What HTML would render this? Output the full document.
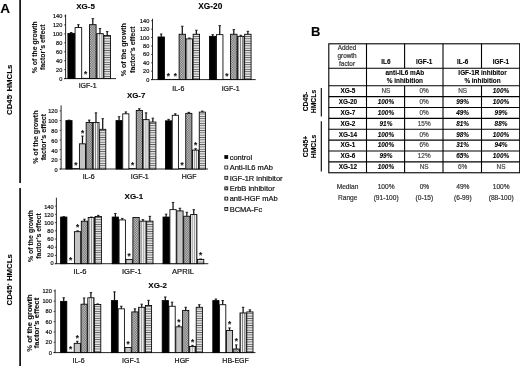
<!DOCTYPE html>
<html><head><meta charset="utf-8"><title>Figure</title>
<style>
html,body{margin:0;padding:0;background:#fff;}
body{width:520px;height:366px;overflow:hidden;font-family:"Liberation Sans", sans-serif;}
svg{display:block;font-family:"Liberation Sans", sans-serif;filter:grayscale(1);}
svg text{stroke-width:0.2px;stroke-linejoin:round;}
svg text[font-weight=bold]{stroke-width:0.1px;}
</style></head><body>
<svg width="520" height="366" viewBox="0 0 520 366">
<defs>
<pattern id="p2" width="1" height="1" patternUnits="userSpaceOnUse"><rect width="1" height="1" fill="#d6d6d6"/><rect width="0.5" height="0.5" fill="#8e8e8e"/></pattern>
<pattern id="p3" width="1.7" height="1.7" patternUnits="userSpaceOnUse"><rect width="1.7" height="1.7" fill="#d2d2d2"/><rect width="0.85" height="0.85" fill="#606060"/><rect x="0.85" y="0.85" width="0.85" height="0.85" fill="#606060"/></pattern>
<pattern id="p4" width="2.1" height="4" patternUnits="userSpaceOnUse"><rect width="2.1" height="4" fill="#ececec"/><rect x="0.8" width="0.6" height="4" fill="#6a6a6a"/></pattern>
<pattern id="p5" width="4" height="2.35" patternUnits="userSpaceOnUse"><rect width="4" height="2.35" fill="#e4e4e4"/><rect y="0.8" width="4" height="0.8" fill="#5c5c5c"/></pattern>
</defs>
<rect width="520" height="366" fill="#fff"/>

<text x="0.2" y="13.4" font-size="13.6" font-weight="bold" fill="#000" stroke="#000">A</text>
<text x="310.9" y="35.8" font-size="13" font-weight="bold" fill="#000" stroke="#000">B</text>
<line x1="20.1" y1="0" x2="20.1" y2="183" stroke="#000" stroke-width="1.6"/>
<line x1="20.1" y1="188" x2="20.1" y2="366" stroke="#000" stroke-width="1.6"/>
<text transform="translate(11.9,89.8) rotate(-90)" font-size="7.8" font-weight="bold" text-anchor="middle" fill="#000" stroke="#000">CD45<tspan dy="-2.8" font-size="3.8">-</tspan><tspan dy="2.8"> HMCLs</tspan></text>
<text transform="translate(11.9,279.8) rotate(-90)" font-size="7.8" font-weight="bold" text-anchor="middle" fill="#000" stroke="#000">CD45<tspan dy="-2.8" font-size="3.8">+</tspan><tspan dy="2.8"> HMCLs</tspan></text>
<line x1="65.6" y1="14.5" x2="65.6" y2="78.6" stroke="#111" stroke-width="0.9"/>
<line x1="64.1" y1="78.6" x2="116" y2="78.6" stroke="#111" stroke-width="0.9"/>
<line x1="64.1" y1="78.60" x2="65.6" y2="78.60" stroke="#111" stroke-width="0.7"/>
<text x="62.3" y="80.62" font-size="5.6" text-anchor="end" fill="#111" stroke="#111">0</text>
<line x1="64.1" y1="69.65" x2="65.6" y2="69.65" stroke="#111" stroke-width="0.7"/>
<text x="62.3" y="71.67" font-size="5.6" text-anchor="end" fill="#111" stroke="#111">20</text>
<line x1="64.1" y1="60.70" x2="65.6" y2="60.70" stroke="#111" stroke-width="0.7"/>
<text x="62.3" y="62.72" font-size="5.6" text-anchor="end" fill="#111" stroke="#111">40</text>
<line x1="64.1" y1="51.75" x2="65.6" y2="51.75" stroke="#111" stroke-width="0.7"/>
<text x="62.3" y="53.77" font-size="5.6" text-anchor="end" fill="#111" stroke="#111">60</text>
<line x1="64.1" y1="42.80" x2="65.6" y2="42.80" stroke="#111" stroke-width="0.7"/>
<text x="62.3" y="44.82" font-size="5.6" text-anchor="end" fill="#111" stroke="#111">80</text>
<line x1="64.1" y1="33.85" x2="65.6" y2="33.85" stroke="#111" stroke-width="0.7"/>
<text x="62.3" y="35.87" font-size="5.6" text-anchor="end" fill="#111" stroke="#111">100</text>
<line x1="64.1" y1="24.90" x2="65.6" y2="24.90" stroke="#111" stroke-width="0.7"/>
<text x="62.3" y="26.92" font-size="5.6" text-anchor="end" fill="#111" stroke="#111">120</text>
<line x1="64.1" y1="15.95" x2="65.6" y2="15.95" stroke="#111" stroke-width="0.7"/>
<text x="62.3" y="17.97" font-size="5.6" text-anchor="end" fill="#111" stroke="#111">140</text>
<text x="85.6" y="8.5" font-size="8" font-weight="bold" text-anchor="middle" fill="#000" stroke="#000">XG-5</text>
<text transform="translate(37.2,47.3) rotate(-90)" font-size="6.95" font-weight="bold" text-anchor="middle" fill="#111" stroke="#111">% of the growth</text>
<text transform="translate(45.3,47.3) rotate(-90)" font-size="6.95" font-weight="bold" text-anchor="middle" fill="#111" stroke="#111">factor’s effect</text>
<rect x="67.90" y="33.40" width="6.60" height="45.20" fill="#000" stroke="#000" stroke-width="0.85"/>
<line x1="71.20" y1="33.40" x2="71.20" y2="32.51" stroke="#111" stroke-width="1.25"/>
<line x1="69.95" y1="32.51" x2="72.45" y2="32.51" stroke="#111" stroke-width="0.9"/>
<rect x="75.10" y="27.58" width="6.60" height="51.02" fill="#fff" stroke="#000" stroke-width="0.85"/>
<line x1="78.40" y1="27.58" x2="78.40" y2="24.68" stroke="#111" stroke-width="1.25"/>
<line x1="77.15" y1="24.68" x2="79.65" y2="24.68" stroke="#111" stroke-width="0.9"/>
<rect x="82.30" y="78.06" width="6.60" height="0.54" fill="#000" stroke="#000" stroke-width="0.3"/>
<text x="85.60" y="77.00" font-size="8.2" font-weight="bold" text-anchor="middle" fill="#111" stroke="#111">*</text>
<rect x="89.50" y="24.68" width="6.60" height="53.92" fill="url(#p3)" stroke="#000" stroke-width="0.85"/>
<line x1="92.80" y1="24.68" x2="92.80" y2="18.63" stroke="#111" stroke-width="1.25"/>
<line x1="91.55" y1="18.63" x2="94.05" y2="18.63" stroke="#111" stroke-width="0.9"/>
<rect x="96.70" y="33.67" width="6.60" height="44.93" fill="url(#p4)" stroke="#000" stroke-width="0.85"/>
<line x1="100.00" y1="33.67" x2="100.00" y2="28.52" stroke="#111" stroke-width="1.25"/>
<line x1="98.75" y1="28.52" x2="101.25" y2="28.52" stroke="#111" stroke-width="0.9"/>
<rect x="103.90" y="35.46" width="6.60" height="43.14" fill="url(#p5)" stroke="#000" stroke-width="0.85"/>
<line x1="107.20" y1="35.46" x2="107.20" y2="31.57" stroke="#111" stroke-width="1.25"/>
<line x1="105.95" y1="31.57" x2="108.45" y2="31.57" stroke="#111" stroke-width="0.9"/>
<text x="87.6" y="88.4" font-size="7" text-anchor="middle" fill="#111" stroke="#111">IGF-1</text>
<line x1="152.5" y1="18.8" x2="152.5" y2="79.6" stroke="#111" stroke-width="0.9"/>
<line x1="151.0" y1="79.6" x2="255.7" y2="79.6" stroke="#111" stroke-width="0.9"/>
<line x1="151.0" y1="79.60" x2="152.5" y2="79.60" stroke="#111" stroke-width="0.7"/>
<text x="149.3" y="81.62" font-size="5.6" text-anchor="end" fill="#111" stroke="#111">0</text>
<line x1="151.0" y1="71.20" x2="152.5" y2="71.20" stroke="#111" stroke-width="0.7"/>
<text x="149.3" y="73.22" font-size="5.6" text-anchor="end" fill="#111" stroke="#111">20</text>
<line x1="151.0" y1="62.80" x2="152.5" y2="62.80" stroke="#111" stroke-width="0.7"/>
<text x="149.3" y="64.82" font-size="5.6" text-anchor="end" fill="#111" stroke="#111">40</text>
<line x1="151.0" y1="54.40" x2="152.5" y2="54.40" stroke="#111" stroke-width="0.7"/>
<text x="149.3" y="56.42" font-size="5.6" text-anchor="end" fill="#111" stroke="#111">60</text>
<line x1="151.0" y1="46.00" x2="152.5" y2="46.00" stroke="#111" stroke-width="0.7"/>
<text x="149.3" y="48.02" font-size="5.6" text-anchor="end" fill="#111" stroke="#111">80</text>
<line x1="151.0" y1="37.60" x2="152.5" y2="37.60" stroke="#111" stroke-width="0.7"/>
<text x="149.3" y="39.62" font-size="5.6" text-anchor="end" fill="#111" stroke="#111">100</text>
<line x1="151.0" y1="29.20" x2="152.5" y2="29.20" stroke="#111" stroke-width="0.7"/>
<text x="149.3" y="31.22" font-size="5.6" text-anchor="end" fill="#111" stroke="#111">120</text>
<line x1="151.0" y1="20.80" x2="152.5" y2="20.80" stroke="#111" stroke-width="0.7"/>
<text x="149.3" y="22.82" font-size="5.6" text-anchor="end" fill="#111" stroke="#111">140</text>
<text x="210.3" y="8.6" font-size="8.3" font-weight="bold" text-anchor="middle" fill="#000" stroke="#000">XG-20</text>
<text transform="translate(126.4,49.7) rotate(-90)" font-size="7.1" font-weight="bold" text-anchor="middle" fill="#111" stroke="#111">% of the growth</text>
<text transform="translate(135.4,49.7) rotate(-90)" font-size="7.1" font-weight="bold" text-anchor="middle" fill="#111" stroke="#111">factor’s effect</text>
<rect x="158.00" y="36.97" width="6.43" height="42.63" fill="#000" stroke="#000" stroke-width="0.85"/>
<line x1="161.21" y1="36.97" x2="161.21" y2="34.03" stroke="#111" stroke-width="1.25"/>
<line x1="159.96" y1="34.03" x2="162.46" y2="34.03" stroke="#111" stroke-width="0.9"/>
<rect x="165.03" y="79.10" width="6.43" height="0.50" fill="#000" stroke="#000" stroke-width="0.3"/>
<text x="168.24" y="78.90" font-size="8.2" font-weight="bold" text-anchor="middle" fill="#111" stroke="#111">*</text>
<rect x="172.06" y="79.10" width="6.43" height="0.50" fill="#000" stroke="#000" stroke-width="0.3"/>
<text x="175.27" y="78.90" font-size="8.2" font-weight="bold" text-anchor="middle" fill="#111" stroke="#111">*</text>
<rect x="179.09" y="34.24" width="6.43" height="45.36" fill="url(#p3)" stroke="#000" stroke-width="0.85"/>
<line x1="182.30" y1="34.24" x2="182.30" y2="26.26" stroke="#111" stroke-width="1.25"/>
<line x1="181.05" y1="26.26" x2="183.55" y2="26.26" stroke="#111" stroke-width="0.9"/>
<rect x="186.12" y="38.86" width="6.43" height="40.74" fill="url(#p4)" stroke="#000" stroke-width="0.85"/>
<line x1="189.33" y1="38.86" x2="189.33" y2="38.02" stroke="#111" stroke-width="1.25"/>
<line x1="188.08" y1="38.02" x2="190.58" y2="38.02" stroke="#111" stroke-width="0.9"/>
<rect x="193.15" y="34.24" width="6.43" height="45.36" fill="url(#p5)" stroke="#000" stroke-width="0.85"/>
<line x1="196.36" y1="34.24" x2="196.36" y2="30.25" stroke="#111" stroke-width="1.25"/>
<line x1="195.11" y1="30.25" x2="197.61" y2="30.25" stroke="#111" stroke-width="0.9"/>
<text x="178.3" y="90.6" font-size="7" text-anchor="middle" fill="#111" stroke="#111">IL-6</text>
<rect x="209.50" y="36.34" width="6.43" height="43.26" fill="#000" stroke="#000" stroke-width="0.85"/>
<line x1="212.71" y1="36.34" x2="212.71" y2="34.66" stroke="#111" stroke-width="1.25"/>
<line x1="211.46" y1="34.66" x2="213.96" y2="34.66" stroke="#111" stroke-width="0.9"/>
<rect x="216.53" y="34.66" width="6.43" height="44.94" fill="#fff" stroke="#000" stroke-width="0.85"/>
<line x1="219.74" y1="34.66" x2="219.74" y2="25.63" stroke="#111" stroke-width="1.25"/>
<line x1="218.49" y1="25.63" x2="220.99" y2="25.63" stroke="#111" stroke-width="0.9"/>
<rect x="223.56" y="79.10" width="6.43" height="0.50" fill="#000" stroke="#000" stroke-width="0.3"/>
<text x="226.77" y="78.90" font-size="8.2" font-weight="bold" text-anchor="middle" fill="#111" stroke="#111">*</text>
<rect x="230.59" y="34.24" width="6.43" height="45.36" fill="url(#p3)" stroke="#000" stroke-width="0.85"/>
<line x1="233.80" y1="34.24" x2="233.80" y2="29.62" stroke="#111" stroke-width="1.25"/>
<line x1="232.55" y1="29.62" x2="235.05" y2="29.62" stroke="#111" stroke-width="0.9"/>
<rect x="237.62" y="36.34" width="6.43" height="43.26" fill="url(#p4)" stroke="#000" stroke-width="0.85"/>
<line x1="240.83" y1="36.34" x2="240.83" y2="35.29" stroke="#111" stroke-width="1.25"/>
<line x1="239.58" y1="35.29" x2="242.08" y2="35.29" stroke="#111" stroke-width="0.9"/>
<rect x="244.65" y="34.24" width="6.43" height="45.36" fill="url(#p5)" stroke="#000" stroke-width="0.85"/>
<line x1="247.86" y1="34.24" x2="247.86" y2="31.30" stroke="#111" stroke-width="1.25"/>
<line x1="246.61" y1="31.30" x2="249.11" y2="31.30" stroke="#111" stroke-width="0.9"/>
<text x="230.6" y="90.6" font-size="7" text-anchor="middle" fill="#111" stroke="#111">IGF-1</text>
<line x1="61.1" y1="105.4" x2="61.1" y2="169.0" stroke="#111" stroke-width="0.9"/>
<line x1="59.6" y1="169.0" x2="208" y2="169.0" stroke="#111" stroke-width="0.9"/>
<line x1="59.6" y1="169.00" x2="61.1" y2="169.00" stroke="#111" stroke-width="0.7"/>
<text x="57.6" y="172.12" font-size="5.6" text-anchor="end" fill="#111" stroke="#111">0</text>
<line x1="59.6" y1="159.32" x2="61.1" y2="159.32" stroke="#111" stroke-width="0.7"/>
<text x="57.6" y="162.34" font-size="5.6" text-anchor="end" fill="#111" stroke="#111">20</text>
<line x1="59.6" y1="149.64" x2="61.1" y2="149.64" stroke="#111" stroke-width="0.7"/>
<text x="57.6" y="152.56" font-size="5.6" text-anchor="end" fill="#111" stroke="#111">40</text>
<line x1="59.6" y1="139.96" x2="61.1" y2="139.96" stroke="#111" stroke-width="0.7"/>
<text x="57.6" y="142.78" font-size="5.6" text-anchor="end" fill="#111" stroke="#111">60</text>
<line x1="59.6" y1="130.28" x2="61.1" y2="130.28" stroke="#111" stroke-width="0.7"/>
<text x="57.6" y="133.00" font-size="5.6" text-anchor="end" fill="#111" stroke="#111">80</text>
<line x1="59.6" y1="120.60" x2="61.1" y2="120.60" stroke="#111" stroke-width="0.7"/>
<text x="57.6" y="123.22" font-size="5.6" text-anchor="end" fill="#111" stroke="#111">100</text>
<line x1="59.6" y1="110.92" x2="61.1" y2="110.92" stroke="#111" stroke-width="0.7"/>
<text x="57.6" y="113.44" font-size="5.6" text-anchor="end" fill="#111" stroke="#111">120</text>
<text x="136.1" y="97.9" font-size="7.9" font-weight="bold" text-anchor="middle" fill="#000" stroke="#000">XG-7</text>
<text transform="translate(37.7,137.1) rotate(-90)" font-size="7.1" font-weight="bold" text-anchor="middle" fill="#111" stroke="#111">% of the growth</text>
<text transform="translate(45.8,137.1) rotate(-90)" font-size="7.1" font-weight="bold" text-anchor="middle" fill="#111" stroke="#111">factor’s effect</text>
<rect x="65.90" y="120.60" width="6.15" height="48.40" fill="#000" stroke="#000" stroke-width="0.85"/>
<line x1="68.97" y1="120.60" x2="68.97" y2="120.12" stroke="#111" stroke-width="1.25"/>
<line x1="67.72" y1="120.12" x2="70.22" y2="120.12" stroke="#111" stroke-width="0.9"/>
<rect x="72.65" y="168.42" width="6.15" height="0.58" fill="#000" stroke="#000" stroke-width="0.3"/>
<text x="75.72" y="168.30" font-size="8.2" font-weight="bold" text-anchor="middle" fill="#111" stroke="#111">*</text>
<rect x="79.40" y="143.83" width="6.15" height="25.17" fill="url(#p2)" stroke="#000" stroke-width="0.85"/>
<line x1="82.47" y1="143.83" x2="82.47" y2="136.09" stroke="#111" stroke-width="1.25"/>
<line x1="81.22" y1="136.09" x2="83.72" y2="136.09" stroke="#111" stroke-width="0.9"/>
<text x="82.47" y="135.59" font-size="8.2" font-weight="bold" text-anchor="middle" fill="#111" stroke="#111">*</text>
<rect x="86.15" y="122.54" width="6.15" height="46.46" fill="url(#p3)" stroke="#000" stroke-width="0.85"/>
<line x1="89.22" y1="122.54" x2="89.22" y2="120.12" stroke="#111" stroke-width="1.25"/>
<line x1="87.97" y1="120.12" x2="90.47" y2="120.12" stroke="#111" stroke-width="0.9"/>
<rect x="92.90" y="122.54" width="6.15" height="46.46" fill="url(#p4)" stroke="#000" stroke-width="0.85"/>
<line x1="95.97" y1="122.54" x2="95.97" y2="112.86" stroke="#111" stroke-width="1.25"/>
<line x1="94.72" y1="112.86" x2="97.22" y2="112.86" stroke="#111" stroke-width="0.9"/>
<rect x="99.65" y="129.31" width="6.15" height="39.69" fill="url(#p5)" stroke="#000" stroke-width="0.85"/>
<line x1="102.72" y1="129.31" x2="102.72" y2="118.66" stroke="#111" stroke-width="1.25"/>
<line x1="101.47" y1="118.66" x2="103.97" y2="118.66" stroke="#111" stroke-width="0.9"/>
<text x="88.7" y="179.3" font-size="7" text-anchor="middle" fill="#111" stroke="#111">IL-6</text>
<rect x="116.00" y="120.60" width="6.15" height="48.40" fill="#000" stroke="#000" stroke-width="0.85"/>
<line x1="119.08" y1="120.60" x2="119.08" y2="116.73" stroke="#111" stroke-width="1.25"/>
<line x1="117.83" y1="116.73" x2="120.33" y2="116.73" stroke="#111" stroke-width="0.9"/>
<rect x="122.75" y="113.82" width="6.15" height="55.18" fill="#fff" stroke="#000" stroke-width="0.85"/>
<line x1="125.83" y1="113.82" x2="125.83" y2="111.89" stroke="#111" stroke-width="1.25"/>
<line x1="124.58" y1="111.89" x2="127.08" y2="111.89" stroke="#111" stroke-width="0.9"/>
<rect x="129.50" y="168.42" width="6.15" height="0.58" fill="#000" stroke="#000" stroke-width="0.3"/>
<text x="132.57" y="168.30" font-size="8.2" font-weight="bold" text-anchor="middle" fill="#111" stroke="#111">*</text>
<rect x="136.25" y="110.44" width="6.15" height="58.56" fill="url(#p3)" stroke="#000" stroke-width="0.85"/>
<line x1="139.32" y1="110.44" x2="139.32" y2="108.74" stroke="#111" stroke-width="1.25"/>
<line x1="138.07" y1="108.74" x2="140.57" y2="108.74" stroke="#111" stroke-width="0.9"/>
<rect x="143.00" y="119.63" width="6.15" height="49.37" fill="url(#p4)" stroke="#000" stroke-width="0.85"/>
<line x1="146.07" y1="119.63" x2="146.07" y2="112.86" stroke="#111" stroke-width="1.25"/>
<line x1="144.82" y1="112.86" x2="147.32" y2="112.86" stroke="#111" stroke-width="0.9"/>
<rect x="149.75" y="122.05" width="6.15" height="46.95" fill="url(#p5)" stroke="#000" stroke-width="0.85"/>
<line x1="152.82" y1="122.05" x2="152.82" y2="118.18" stroke="#111" stroke-width="1.25"/>
<line x1="151.57" y1="118.18" x2="154.07" y2="118.18" stroke="#111" stroke-width="0.9"/>
<text x="139.8" y="179.3" font-size="7" text-anchor="middle" fill="#111" stroke="#111">IGF-1</text>
<rect x="165.50" y="120.84" width="6.15" height="48.16" fill="#000" stroke="#000" stroke-width="0.85"/>
<line x1="168.57" y1="120.84" x2="168.57" y2="119.39" stroke="#111" stroke-width="1.25"/>
<line x1="167.32" y1="119.39" x2="169.82" y2="119.39" stroke="#111" stroke-width="0.9"/>
<rect x="172.25" y="115.28" width="6.15" height="53.72" fill="#fff" stroke="#000" stroke-width="0.85"/>
<line x1="175.32" y1="115.28" x2="175.32" y2="113.82" stroke="#111" stroke-width="1.25"/>
<line x1="174.07" y1="113.82" x2="176.57" y2="113.82" stroke="#111" stroke-width="0.9"/>
<rect x="179.00" y="168.42" width="6.15" height="0.58" fill="#000" stroke="#000" stroke-width="0.3"/>
<text x="182.07" y="168.30" font-size="8.2" font-weight="bold" text-anchor="middle" fill="#111" stroke="#111">*</text>
<rect x="185.75" y="113.34" width="6.15" height="55.66" fill="url(#p3)" stroke="#000" stroke-width="0.85"/>
<line x1="188.82" y1="113.34" x2="188.82" y2="112.37" stroke="#111" stroke-width="1.25"/>
<line x1="187.57" y1="112.37" x2="190.07" y2="112.37" stroke="#111" stroke-width="0.9"/>
<rect x="192.50" y="150.12" width="6.15" height="18.88" fill="url(#p4)" stroke="#000" stroke-width="0.85"/>
<line x1="195.57" y1="150.12" x2="195.57" y2="148.67" stroke="#111" stroke-width="1.25"/>
<line x1="194.32" y1="148.67" x2="196.82" y2="148.67" stroke="#111" stroke-width="0.9"/>
<text x="195.57" y="148.17" font-size="8.2" font-weight="bold" text-anchor="middle" fill="#111" stroke="#111">*</text>
<rect x="199.25" y="112.08" width="6.15" height="56.92" fill="url(#p5)" stroke="#000" stroke-width="0.85"/>
<line x1="202.32" y1="112.08" x2="202.32" y2="111.11" stroke="#111" stroke-width="1.25"/>
<line x1="201.07" y1="111.11" x2="203.57" y2="111.11" stroke="#111" stroke-width="0.9"/>
<text x="189.2" y="179.3" font-size="7" text-anchor="middle" fill="#111" stroke="#111">HGF</text>
<line x1="56.4" y1="197.7" x2="56.4" y2="263.7" stroke="#111" stroke-width="0.9"/>
<line x1="54.9" y1="263.7" x2="208.3" y2="263.7" stroke="#111" stroke-width="0.9"/>
<line x1="54.9" y1="263.70" x2="56.4" y2="263.70" stroke="#111" stroke-width="0.7"/>
<text x="53.6" y="264.92" font-size="5.6" text-anchor="end" fill="#111" stroke="#111">0</text>
<line x1="54.9" y1="255.48" x2="56.4" y2="255.48" stroke="#111" stroke-width="0.7"/>
<text x="53.6" y="256.88" font-size="5.6" text-anchor="end" fill="#111" stroke="#111">20</text>
<line x1="54.9" y1="247.26" x2="56.4" y2="247.26" stroke="#111" stroke-width="0.7"/>
<text x="53.6" y="248.84" font-size="5.6" text-anchor="end" fill="#111" stroke="#111">40</text>
<line x1="54.9" y1="239.04" x2="56.4" y2="239.04" stroke="#111" stroke-width="0.7"/>
<text x="53.6" y="240.80" font-size="5.6" text-anchor="end" fill="#111" stroke="#111">60</text>
<line x1="54.9" y1="230.82" x2="56.4" y2="230.82" stroke="#111" stroke-width="0.7"/>
<text x="53.6" y="232.76" font-size="5.6" text-anchor="end" fill="#111" stroke="#111">80</text>
<line x1="54.9" y1="222.60" x2="56.4" y2="222.60" stroke="#111" stroke-width="0.7"/>
<text x="53.6" y="224.72" font-size="5.6" text-anchor="end" fill="#111" stroke="#111">100</text>
<line x1="54.9" y1="214.38" x2="56.4" y2="214.38" stroke="#111" stroke-width="0.7"/>
<text x="53.6" y="216.68" font-size="5.6" text-anchor="end" fill="#111" stroke="#111">120</text>
<line x1="54.9" y1="206.16" x2="56.4" y2="206.16" stroke="#111" stroke-width="0.7"/>
<text x="53.6" y="208.64" font-size="5.6" text-anchor="end" fill="#111" stroke="#111">140</text>
<text x="133.9" y="199.2" font-size="8" font-weight="bold" text-anchor="middle" fill="#000" stroke="#000">XG-1</text>
<text transform="translate(32.8,236) rotate(-90)" font-size="6.95" font-weight="bold" text-anchor="middle" fill="#111" stroke="#111">% of the growth</text>
<text transform="translate(40.7,236) rotate(-90)" font-size="6.95" font-weight="bold" text-anchor="middle" fill="#111" stroke="#111">factor’s effect</text>
<rect x="60.60" y="217.05" width="6.30" height="46.65" fill="#000" stroke="#000" stroke-width="0.85"/>
<line x1="63.75" y1="217.05" x2="63.75" y2="216.64" stroke="#111" stroke-width="1.25"/>
<line x1="62.50" y1="216.64" x2="65.00" y2="216.64" stroke="#111" stroke-width="0.9"/>
<rect x="67.50" y="263.21" width="6.30" height="0.49" fill="#000" stroke="#000" stroke-width="0.3"/>
<text x="70.65" y="263.00" font-size="8.2" font-weight="bold" text-anchor="middle" fill="#111" stroke="#111">*</text>
<rect x="74.40" y="231.68" width="6.30" height="32.02" fill="url(#p2)" stroke="#000" stroke-width="0.85"/>
<line x1="77.55" y1="231.68" x2="77.55" y2="230.86" stroke="#111" stroke-width="1.25"/>
<line x1="76.30" y1="230.86" x2="78.80" y2="230.86" stroke="#111" stroke-width="0.9"/>
<text x="77.55" y="230.36" font-size="8.2" font-weight="bold" text-anchor="middle" fill="#111" stroke="#111">*</text>
<rect x="81.30" y="221.20" width="6.30" height="42.50" fill="url(#p3)" stroke="#000" stroke-width="0.85"/>
<line x1="84.45" y1="221.20" x2="84.45" y2="219.19" stroke="#111" stroke-width="1.25"/>
<line x1="83.20" y1="219.19" x2="85.70" y2="219.19" stroke="#111" stroke-width="0.9"/>
<rect x="88.20" y="217.50" width="6.30" height="46.20" fill="url(#p4)" stroke="#000" stroke-width="0.85"/>
<line x1="91.35" y1="217.50" x2="91.35" y2="217.09" stroke="#111" stroke-width="1.25"/>
<line x1="90.10" y1="217.09" x2="92.60" y2="217.09" stroke="#111" stroke-width="0.9"/>
<rect x="95.10" y="216.44" width="6.30" height="47.27" fill="url(#p5)" stroke="#000" stroke-width="0.85"/>
<line x1="98.25" y1="216.44" x2="98.25" y2="215.37" stroke="#111" stroke-width="1.25"/>
<line x1="97.00" y1="215.37" x2="99.50" y2="215.37" stroke="#111" stroke-width="0.9"/>
<text x="80" y="274.1" font-size="7.6" text-anchor="middle" fill="#111" stroke="#111">IL-6</text>
<rect x="112.20" y="217.05" width="6.30" height="46.65" fill="#000" stroke="#000" stroke-width="0.85"/>
<line x1="115.35" y1="217.05" x2="115.35" y2="213.56" stroke="#111" stroke-width="1.25"/>
<line x1="114.10" y1="213.56" x2="116.60" y2="213.56" stroke="#111" stroke-width="0.9"/>
<rect x="119.10" y="219.93" width="6.30" height="43.77" fill="#fff" stroke="#000" stroke-width="0.85"/>
<line x1="122.25" y1="219.93" x2="122.25" y2="218.41" stroke="#111" stroke-width="1.25"/>
<line x1="121.00" y1="218.41" x2="123.50" y2="218.41" stroke="#111" stroke-width="0.9"/>
<rect x="126.00" y="259.38" width="6.30" height="4.32" fill="url(#p2)" stroke="#000" stroke-width="0.85"/>
<text x="129.15" y="258.88" font-size="8.2" font-weight="bold" text-anchor="middle" fill="#111" stroke="#111">*</text>
<rect x="132.90" y="217.46" width="6.30" height="46.24" fill="url(#p3)" stroke="#000" stroke-width="0.85"/>
<rect x="139.80" y="221.16" width="6.30" height="42.54" fill="url(#p4)" stroke="#000" stroke-width="0.85"/>
<line x1="142.95" y1="221.16" x2="142.95" y2="219.64" stroke="#111" stroke-width="1.25"/>
<line x1="141.70" y1="219.64" x2="144.20" y2="219.64" stroke="#111" stroke-width="0.9"/>
<rect x="146.70" y="221.16" width="6.30" height="42.54" fill="url(#p5)" stroke="#000" stroke-width="0.85"/>
<line x1="149.85" y1="221.16" x2="149.85" y2="216.35" stroke="#111" stroke-width="1.25"/>
<line x1="148.60" y1="216.35" x2="151.10" y2="216.35" stroke="#111" stroke-width="0.9"/>
<text x="131.7" y="274.1" font-size="7.6" text-anchor="middle" fill="#111" stroke="#111">IGF-1</text>
<rect x="163.00" y="217.05" width="6.30" height="46.65" fill="#000" stroke="#000" stroke-width="0.85"/>
<line x1="166.15" y1="217.05" x2="166.15" y2="214.17" stroke="#111" stroke-width="1.25"/>
<line x1="164.90" y1="214.17" x2="167.40" y2="214.17" stroke="#111" stroke-width="0.9"/>
<rect x="169.90" y="209.65" width="6.30" height="54.05" fill="#fff" stroke="#000" stroke-width="0.85"/>
<line x1="173.05" y1="209.65" x2="173.05" y2="202.46" stroke="#111" stroke-width="1.25"/>
<line x1="171.80" y1="202.46" x2="174.30" y2="202.46" stroke="#111" stroke-width="0.9"/>
<rect x="176.80" y="210.89" width="6.30" height="52.81" fill="url(#p2)" stroke="#000" stroke-width="0.85"/>
<line x1="179.95" y1="210.89" x2="179.95" y2="208.26" stroke="#111" stroke-width="1.25"/>
<line x1="178.70" y1="208.26" x2="181.20" y2="208.26" stroke="#111" stroke-width="0.9"/>
<rect x="183.70" y="216.23" width="6.30" height="47.47" fill="url(#p3)" stroke="#000" stroke-width="0.85"/>
<line x1="186.85" y1="216.23" x2="186.85" y2="212.28" stroke="#111" stroke-width="1.25"/>
<line x1="185.60" y1="212.28" x2="188.10" y2="212.28" stroke="#111" stroke-width="0.9"/>
<rect x="190.60" y="214.59" width="6.30" height="49.11" fill="url(#p4)" stroke="#000" stroke-width="0.85"/>
<line x1="193.75" y1="214.59" x2="193.75" y2="209.65" stroke="#111" stroke-width="1.25"/>
<line x1="192.50" y1="209.65" x2="195.00" y2="209.65" stroke="#111" stroke-width="0.9"/>
<rect x="197.50" y="259.38" width="6.30" height="4.32" fill="url(#p5)" stroke="#000" stroke-width="0.85"/>
<line x1="200.65" y1="259.38" x2="200.65" y2="258.97" stroke="#111" stroke-width="1.25"/>
<line x1="199.40" y1="258.97" x2="201.90" y2="258.97" stroke="#111" stroke-width="0.9"/>
<text x="200.65" y="258.47" font-size="8.2" font-weight="bold" text-anchor="middle" fill="#111" stroke="#111">*</text>
<text x="183.0" y="274.1" font-size="7.6" text-anchor="middle" fill="#111" stroke="#111">APRIL</text>
<line x1="55.1" y1="289.5" x2="55.1" y2="352.6" stroke="#111" stroke-width="0.9"/>
<line x1="53.6" y1="352.6" x2="255.5" y2="352.6" stroke="#111" stroke-width="0.9"/>
<line x1="53.6" y1="352.60" x2="55.1" y2="352.60" stroke="#111" stroke-width="0.7"/>
<text x="51.8" y="354.62" font-size="5.6" text-anchor="end" fill="#111" stroke="#111">0</text>
<line x1="53.6" y1="342.30" x2="55.1" y2="342.30" stroke="#111" stroke-width="0.7"/>
<text x="51.8" y="344.32" font-size="5.6" text-anchor="end" fill="#111" stroke="#111">20</text>
<line x1="53.6" y1="332.00" x2="55.1" y2="332.00" stroke="#111" stroke-width="0.7"/>
<text x="51.8" y="334.02" font-size="5.6" text-anchor="end" fill="#111" stroke="#111">40</text>
<line x1="53.6" y1="321.70" x2="55.1" y2="321.70" stroke="#111" stroke-width="0.7"/>
<text x="51.8" y="323.72" font-size="5.6" text-anchor="end" fill="#111" stroke="#111">60</text>
<line x1="53.6" y1="311.40" x2="55.1" y2="311.40" stroke="#111" stroke-width="0.7"/>
<text x="51.8" y="313.42" font-size="5.6" text-anchor="end" fill="#111" stroke="#111">80</text>
<line x1="53.6" y1="301.10" x2="55.1" y2="301.10" stroke="#111" stroke-width="0.7"/>
<text x="51.8" y="303.12" font-size="5.6" text-anchor="end" fill="#111" stroke="#111">100</text>
<line x1="53.6" y1="290.80" x2="55.1" y2="290.80" stroke="#111" stroke-width="0.7"/>
<text x="51.8" y="292.82" font-size="5.6" text-anchor="end" fill="#111" stroke="#111">120</text>
<text x="157.7" y="287.5" font-size="8" font-weight="bold" text-anchor="middle" fill="#000" stroke="#000">XG-2</text>
<text transform="translate(31.6,323) rotate(-90)" font-size="7.7" font-weight="bold" text-anchor="middle" fill="#111" stroke="#111">% of the growth</text>
<text transform="translate(39.2,323) rotate(-90)" font-size="7.7" font-weight="bold" text-anchor="middle" fill="#111" stroke="#111">factor’s effect</text>
<rect x="60.60" y="301.36" width="6.20" height="51.24" fill="#000" stroke="#000" stroke-width="0.85"/>
<line x1="63.70" y1="301.36" x2="63.70" y2="297.75" stroke="#111" stroke-width="1.25"/>
<line x1="62.45" y1="297.75" x2="64.95" y2="297.75" stroke="#111" stroke-width="0.9"/>
<rect x="67.40" y="351.98" width="6.20" height="0.62" fill="#000" stroke="#000" stroke-width="0.3"/>
<text x="70.50" y="351.90" font-size="8.2" font-weight="bold" text-anchor="middle" fill="#111" stroke="#111">*</text>
<rect x="74.20" y="343.33" width="6.20" height="9.27" fill="url(#p2)" stroke="#000" stroke-width="0.85"/>
<line x1="77.30" y1="343.33" x2="77.30" y2="341.27" stroke="#111" stroke-width="1.25"/>
<line x1="76.05" y1="341.27" x2="78.55" y2="341.27" stroke="#111" stroke-width="0.9"/>
<text x="77.30" y="340.77" font-size="8.2" font-weight="bold" text-anchor="middle" fill="#111" stroke="#111">*</text>
<rect x="81.00" y="304.19" width="6.20" height="48.41" fill="url(#p3)" stroke="#000" stroke-width="0.85"/>
<line x1="84.10" y1="304.19" x2="84.10" y2="298.01" stroke="#111" stroke-width="1.25"/>
<line x1="82.85" y1="298.01" x2="85.35" y2="298.01" stroke="#111" stroke-width="0.9"/>
<rect x="87.80" y="297.75" width="6.20" height="54.85" fill="url(#p4)" stroke="#000" stroke-width="0.85"/>
<line x1="90.90" y1="297.75" x2="90.90" y2="292.60" stroke="#111" stroke-width="1.25"/>
<line x1="89.65" y1="292.60" x2="92.15" y2="292.60" stroke="#111" stroke-width="0.9"/>
<rect x="94.60" y="304.45" width="6.20" height="48.15" fill="url(#p5)" stroke="#000" stroke-width="0.85"/>
<line x1="97.70" y1="304.45" x2="97.70" y2="303.93" stroke="#111" stroke-width="1.25"/>
<line x1="96.45" y1="303.93" x2="98.95" y2="303.93" stroke="#111" stroke-width="0.9"/>
<text x="78.5" y="363" font-size="7" text-anchor="middle" fill="#111" stroke="#111">IL-6</text>
<rect x="111.40" y="300.59" width="6.20" height="52.02" fill="#000" stroke="#000" stroke-width="0.85"/>
<line x1="114.50" y1="300.59" x2="114.50" y2="291.83" stroke="#111" stroke-width="1.25"/>
<line x1="113.25" y1="291.83" x2="115.75" y2="291.83" stroke="#111" stroke-width="0.9"/>
<rect x="118.20" y="308.83" width="6.20" height="43.77" fill="#fff" stroke="#000" stroke-width="0.85"/>
<line x1="121.30" y1="308.83" x2="121.30" y2="306.25" stroke="#111" stroke-width="1.25"/>
<line x1="120.05" y1="306.25" x2="122.55" y2="306.25" stroke="#111" stroke-width="0.9"/>
<rect x="125.00" y="347.45" width="6.20" height="5.15" fill="url(#p2)" stroke="#000" stroke-width="0.85"/>
<text x="128.10" y="346.95" font-size="8.2" font-weight="bold" text-anchor="middle" fill="#111" stroke="#111">*</text>
<rect x="131.80" y="311.92" width="6.20" height="40.69" fill="url(#p3)" stroke="#000" stroke-width="0.85"/>
<line x1="134.90" y1="311.92" x2="134.90" y2="308.83" stroke="#111" stroke-width="1.25"/>
<line x1="133.65" y1="308.83" x2="136.15" y2="308.83" stroke="#111" stroke-width="0.9"/>
<rect x="138.60" y="307.28" width="6.20" height="45.32" fill="url(#p4)" stroke="#000" stroke-width="0.85"/>
<line x1="141.70" y1="307.28" x2="141.70" y2="304.19" stroke="#111" stroke-width="1.25"/>
<line x1="140.45" y1="304.19" x2="142.95" y2="304.19" stroke="#111" stroke-width="0.9"/>
<rect x="145.40" y="305.48" width="6.20" height="47.12" fill="url(#p5)" stroke="#000" stroke-width="0.85"/>
<line x1="148.50" y1="305.48" x2="148.50" y2="300.33" stroke="#111" stroke-width="1.25"/>
<line x1="147.25" y1="300.33" x2="149.75" y2="300.33" stroke="#111" stroke-width="0.9"/>
<text x="131" y="363" font-size="7" text-anchor="middle" fill="#111" stroke="#111">IGF-1</text>
<rect x="162.20" y="300.59" width="6.20" height="52.02" fill="#000" stroke="#000" stroke-width="0.85"/>
<line x1="165.30" y1="300.59" x2="165.30" y2="296.98" stroke="#111" stroke-width="1.25"/>
<line x1="164.05" y1="296.98" x2="166.55" y2="296.98" stroke="#111" stroke-width="0.9"/>
<rect x="169.00" y="306.25" width="6.20" height="46.35" fill="#fff" stroke="#000" stroke-width="0.85"/>
<line x1="172.10" y1="306.25" x2="172.10" y2="302.13" stroke="#111" stroke-width="1.25"/>
<line x1="170.85" y1="302.13" x2="173.35" y2="302.13" stroke="#111" stroke-width="0.9"/>
<rect x="175.80" y="326.85" width="6.20" height="25.75" fill="url(#p2)" stroke="#000" stroke-width="0.85"/>
<line x1="178.90" y1="326.85" x2="178.90" y2="325.31" stroke="#111" stroke-width="1.25"/>
<line x1="177.65" y1="325.31" x2="180.15" y2="325.31" stroke="#111" stroke-width="0.9"/>
<text x="178.90" y="324.81" font-size="8.2" font-weight="bold" text-anchor="middle" fill="#111" stroke="#111">*</text>
<rect x="182.60" y="310.37" width="6.20" height="42.23" fill="url(#p3)" stroke="#000" stroke-width="0.85"/>
<line x1="185.70" y1="310.37" x2="185.70" y2="307.28" stroke="#111" stroke-width="1.25"/>
<line x1="184.45" y1="307.28" x2="186.95" y2="307.28" stroke="#111" stroke-width="0.9"/>
<rect x="189.40" y="346.42" width="6.20" height="6.18" fill="url(#p4)" stroke="#000" stroke-width="0.85"/>
<line x1="192.50" y1="346.42" x2="192.50" y2="345.39" stroke="#111" stroke-width="1.25"/>
<line x1="191.25" y1="345.39" x2="193.75" y2="345.39" stroke="#111" stroke-width="0.9"/>
<text x="192.50" y="344.89" font-size="8.2" font-weight="bold" text-anchor="middle" fill="#111" stroke="#111">*</text>
<rect x="196.20" y="307.28" width="6.20" height="45.32" fill="url(#p5)" stroke="#000" stroke-width="0.85"/>
<line x1="199.30" y1="307.28" x2="199.30" y2="304.71" stroke="#111" stroke-width="1.25"/>
<line x1="198.05" y1="304.71" x2="200.55" y2="304.71" stroke="#111" stroke-width="0.9"/>
<text x="182" y="363" font-size="7" text-anchor="middle" fill="#111" stroke="#111">HGF</text>
<rect x="212.80" y="300.59" width="6.20" height="52.02" fill="#000" stroke="#000" stroke-width="0.85"/>
<line x1="215.90" y1="300.59" x2="215.90" y2="299.04" stroke="#111" stroke-width="1.25"/>
<line x1="214.65" y1="299.04" x2="217.15" y2="299.04" stroke="#111" stroke-width="0.9"/>
<rect x="219.60" y="304.71" width="6.20" height="47.90" fill="#fff" stroke="#000" stroke-width="0.85"/>
<line x1="222.70" y1="304.71" x2="222.70" y2="300.59" stroke="#111" stroke-width="1.25"/>
<line x1="221.45" y1="300.59" x2="223.95" y2="300.59" stroke="#111" stroke-width="0.9"/>
<rect x="226.40" y="330.46" width="6.20" height="22.14" fill="url(#p2)" stroke="#000" stroke-width="0.85"/>
<line x1="229.50" y1="330.46" x2="229.50" y2="327.88" stroke="#111" stroke-width="1.25"/>
<line x1="228.25" y1="327.88" x2="230.75" y2="327.88" stroke="#111" stroke-width="0.9"/>
<text x="229.50" y="327.38" font-size="8.2" font-weight="bold" text-anchor="middle" fill="#111" stroke="#111">*</text>
<rect x="233.20" y="349.00" width="6.20" height="3.60" fill="url(#p3)" stroke="#000" stroke-width="0.85"/>
<line x1="236.30" y1="349.00" x2="236.30" y2="344.88" stroke="#111" stroke-width="1.25"/>
<line x1="235.05" y1="344.88" x2="237.55" y2="344.88" stroke="#111" stroke-width="0.9"/>
<text x="236.30" y="344.38" font-size="8.2" font-weight="bold" text-anchor="middle" fill="#111" stroke="#111">*</text>
<rect x="240.00" y="312.95" width="6.20" height="39.66" fill="url(#p4)" stroke="#000" stroke-width="0.85"/>
<line x1="243.10" y1="312.95" x2="243.10" y2="307.28" stroke="#111" stroke-width="1.25"/>
<line x1="241.85" y1="307.28" x2="244.35" y2="307.28" stroke="#111" stroke-width="0.9"/>
<rect x="246.80" y="311.92" width="6.20" height="40.69" fill="url(#p5)" stroke="#000" stroke-width="0.85"/>
<line x1="249.90" y1="311.92" x2="249.90" y2="309.86" stroke="#111" stroke-width="1.25"/>
<line x1="248.65" y1="309.86" x2="251.15" y2="309.86" stroke="#111" stroke-width="0.9"/>
<text x="235.6" y="363" font-size="7" text-anchor="middle" fill="#111" stroke="#111">HB-EGF</text>
<rect x="224.8" y="155.60" width="3" height="3" fill="#000" stroke="#000" stroke-width="0.75"/>
<text x="229.7" y="159.85" font-size="7.5" fill="#111" stroke="#111">control</text>
<rect x="224.8" y="166.00" width="3" height="3" fill="#fff" stroke="#000" stroke-width="0.75"/>
<text x="229.7" y="170.25" font-size="7.5" fill="#111" stroke="#111">Anti-IL6 mAb</text>
<rect x="224.8" y="176.30" width="3" height="3" fill="url(#p2)" stroke="#000" stroke-width="0.75"/>
<text x="229.7" y="180.55" font-size="7.5" fill="#111" stroke="#111">IGF-1R inhibitor</text>
<rect x="224.8" y="186.90" width="3" height="3" fill="url(#p3)" stroke="#000" stroke-width="0.75"/>
<text x="229.7" y="191.15" font-size="7.5" fill="#111" stroke="#111">ErbB inhibitor</text>
<rect x="224.8" y="197.10" width="3" height="3" fill="url(#p4)" stroke="#000" stroke-width="0.75"/>
<text x="229.7" y="201.35" font-size="7.5" fill="#111" stroke="#111">anti-HGF mAb</text>
<rect x="224.8" y="207.50" width="3" height="3" fill="url(#p5)" stroke="#000" stroke-width="0.75"/>
<text x="229.7" y="211.75" font-size="7.5" fill="#111" stroke="#111">BCMA-Fc</text>
<rect x="328.8" y="43.8" width="190.90" height="128.96" fill="none" stroke="#000" stroke-width="1.1"/>
<line x1="328.8" y1="68.20" x2="519.7" y2="68.20" stroke="#000" stroke-width="1.1"/>
<line x1="328.8" y1="85.80" x2="519.7" y2="85.80" stroke="#000" stroke-width="1.1"/>
<line x1="328.8" y1="96.67" x2="519.7" y2="96.67" stroke="#000" stroke-width="1.1"/>
<line x1="328.8" y1="107.54" x2="519.7" y2="107.54" stroke="#000" stroke-width="1.1"/>
<line x1="328.8" y1="118.41" x2="519.7" y2="118.41" stroke="#000" stroke-width="1.1"/>
<line x1="328.8" y1="129.28" x2="519.7" y2="129.28" stroke="#000" stroke-width="1.1"/>
<line x1="328.8" y1="140.15" x2="519.7" y2="140.15" stroke="#000" stroke-width="1.1"/>
<line x1="328.8" y1="151.02" x2="519.7" y2="151.02" stroke="#000" stroke-width="1.1"/>
<line x1="328.8" y1="161.89" x2="519.7" y2="161.89" stroke="#000" stroke-width="1.1"/>
<line x1="366.5" y1="43.8" x2="366.5" y2="172.76" stroke="#000" stroke-width="1.1"/>
<line x1="443.0" y1="43.8" x2="443.0" y2="172.76" stroke="#000" stroke-width="1.1"/>
<line x1="404.6" y1="43.8" x2="404.6" y2="68.2" stroke="#000" stroke-width="1.1"/>
<line x1="404.6" y1="85.8" x2="404.6" y2="172.76" stroke="#000" stroke-width="1.1"/>
<line x1="481.5" y1="43.8" x2="481.5" y2="68.2" stroke="#000" stroke-width="1.1"/>
<line x1="481.5" y1="85.8" x2="481.5" y2="172.76" stroke="#000" stroke-width="1.1"/>
<text x="347.05" y="50.0" font-size="6.4" text-anchor="middle" fill="#333" stroke="#333">Added</text>
<text x="347.05" y="58.2" font-size="6.4" text-anchor="middle" fill="#333" stroke="#333">growth</text>
<text x="347.05" y="66.4" font-size="6.4" text-anchor="middle" fill="#333" stroke="#333">factor</text>
<text x="385.95" y="64.3" font-size="6.4" font-weight="bold" text-anchor="middle" fill="#000" stroke="#000">IL6</text>
<text x="424.20" y="64.3" font-size="6.4" font-weight="bold" text-anchor="middle" fill="#000" stroke="#000">IGF-1</text>
<text x="462.65" y="64.3" font-size="6.4" font-weight="bold" text-anchor="middle" fill="#000" stroke="#000">IL-6</text>
<text x="501.00" y="64.3" font-size="6.4" font-weight="bold" text-anchor="middle" fill="#000" stroke="#000">IGF-1</text>
<text x="404.90000000000003" y="74.9" font-size="6.4" font-weight="bold" text-anchor="middle" fill="#000" stroke="#000">anti-IL6 mAb</text>
<text x="404.90000000000003" y="83.0" font-size="6.4" font-weight="bold" text-anchor="middle" fill="#000" stroke="#000">% inhibition</text>
<text x="482.5" y="74.9" font-size="6.4" font-weight="bold" text-anchor="middle" fill="#000" stroke="#000">IGF-1R inhibitor</text>
<text x="482.5" y="83.0" font-size="6.4" font-weight="bold" text-anchor="middle" fill="#000" stroke="#000">% inhibition</text>
<text x="347.95" y="93.14" font-size="6.4" font-weight="bold" text-anchor="middle" fill="#000" stroke="#000">XG-5</text>
<text x="385.95" y="93.14" font-size="6.4" text-anchor="middle" fill="#444" stroke="#444">NS</text>
<text x="424.20" y="93.14" font-size="6.4" text-anchor="middle" fill="#444" stroke="#444">0%</text>
<text x="462.65" y="93.14" font-size="6.4" text-anchor="middle" fill="#444" stroke="#444">NS</text>
<text x="501.00" y="93.14" font-size="6.4" font-weight="bold" font-style="italic" text-anchor="middle" fill="#000" stroke="#000">100%</text>
<text x="347.95" y="104.01" font-size="6.4" font-weight="bold" text-anchor="middle" fill="#000" stroke="#000">XG-20</text>
<text x="385.95" y="104.01" font-size="6.4" font-weight="bold" font-style="italic" text-anchor="middle" fill="#000" stroke="#000">100%</text>
<text x="424.20" y="104.01" font-size="6.4" text-anchor="middle" fill="#444" stroke="#444">0%</text>
<text x="462.65" y="104.01" font-size="6.4" font-weight="bold" font-style="italic" text-anchor="middle" fill="#000" stroke="#000">99%</text>
<text x="501.00" y="104.01" font-size="6.4" font-weight="bold" font-style="italic" text-anchor="middle" fill="#000" stroke="#000">100%</text>
<text x="347.95" y="114.88" font-size="6.4" font-weight="bold" text-anchor="middle" fill="#000" stroke="#000">XG-7</text>
<text x="385.95" y="114.88" font-size="6.4" font-weight="bold" font-style="italic" text-anchor="middle" fill="#000" stroke="#000">100%</text>
<text x="424.20" y="114.88" font-size="6.4" text-anchor="middle" fill="#444" stroke="#444">0%</text>
<text x="462.65" y="114.88" font-size="6.4" font-weight="bold" font-style="italic" text-anchor="middle" fill="#000" stroke="#000">49%</text>
<text x="501.00" y="114.88" font-size="6.4" font-weight="bold" font-style="italic" text-anchor="middle" fill="#000" stroke="#000">99%</text>
<text x="347.95" y="125.75" font-size="6.4" font-weight="bold" text-anchor="middle" fill="#000" stroke="#000">XG-2</text>
<text x="385.95" y="125.75" font-size="6.4" font-weight="bold" font-style="italic" text-anchor="middle" fill="#000" stroke="#000">91%</text>
<text x="424.20" y="125.75" font-size="6.4" text-anchor="middle" fill="#444" stroke="#444">15%</text>
<text x="462.65" y="125.75" font-size="6.4" font-weight="bold" font-style="italic" text-anchor="middle" fill="#000" stroke="#000">81%</text>
<text x="501.00" y="125.75" font-size="6.4" font-weight="bold" font-style="italic" text-anchor="middle" fill="#000" stroke="#000">88%</text>
<text x="347.95" y="136.62" font-size="6.4" font-weight="bold" text-anchor="middle" fill="#000" stroke="#000">XG-14</text>
<text x="385.95" y="136.62" font-size="6.4" font-weight="bold" font-style="italic" text-anchor="middle" fill="#000" stroke="#000">100%</text>
<text x="424.20" y="136.62" font-size="6.4" text-anchor="middle" fill="#444" stroke="#444">0%</text>
<text x="462.65" y="136.62" font-size="6.4" font-weight="bold" font-style="italic" text-anchor="middle" fill="#000" stroke="#000">98%</text>
<text x="501.00" y="136.62" font-size="6.4" font-weight="bold" font-style="italic" text-anchor="middle" fill="#000" stroke="#000">100%</text>
<text x="347.95" y="147.48" font-size="6.4" font-weight="bold" text-anchor="middle" fill="#000" stroke="#000">XG-1</text>
<text x="385.95" y="147.48" font-size="6.4" font-weight="bold" font-style="italic" text-anchor="middle" fill="#000" stroke="#000">100%</text>
<text x="424.20" y="147.48" font-size="6.4" text-anchor="middle" fill="#444" stroke="#444">6%</text>
<text x="462.65" y="147.48" font-size="6.4" font-weight="bold" font-style="italic" text-anchor="middle" fill="#000" stroke="#000">31%</text>
<text x="501.00" y="147.48" font-size="6.4" font-weight="bold" font-style="italic" text-anchor="middle" fill="#000" stroke="#000">94%</text>
<text x="347.95" y="158.35" font-size="6.4" font-weight="bold" text-anchor="middle" fill="#000" stroke="#000">XG-6</text>
<text x="385.95" y="158.35" font-size="6.4" font-weight="bold" font-style="italic" text-anchor="middle" fill="#000" stroke="#000">99%</text>
<text x="424.20" y="158.35" font-size="6.4" text-anchor="middle" fill="#444" stroke="#444">12%</text>
<text x="462.65" y="158.35" font-size="6.4" font-weight="bold" font-style="italic" text-anchor="middle" fill="#000" stroke="#000">65%</text>
<text x="501.00" y="158.35" font-size="6.4" font-weight="bold" font-style="italic" text-anchor="middle" fill="#000" stroke="#000">100%</text>
<text x="347.95" y="169.22" font-size="6.4" font-weight="bold" text-anchor="middle" fill="#000" stroke="#000">XG-12</text>
<text x="385.95" y="169.22" font-size="6.4" font-weight="bold" font-style="italic" text-anchor="middle" fill="#000" stroke="#000">100%</text>
<text x="424.20" y="169.22" font-size="6.4" text-anchor="middle" fill="#444" stroke="#444">NS</text>
<text x="462.65" y="169.22" font-size="6.4" text-anchor="middle" fill="#444" stroke="#444">6%</text>
<text x="501.00" y="169.22" font-size="6.4" text-anchor="middle" fill="#444" stroke="#444">NS</text>
<line x1="321.3" y1="88.1" x2="321.3" y2="116.6" stroke="#000" stroke-width="1.1"/>
<line x1="321.3" y1="121.3" x2="321.3" y2="171.6" stroke="#000" stroke-width="1.1"/>
<text transform="translate(307.7,101.5) rotate(-90)" font-size="6.8" font-weight="bold" text-anchor="middle" fill="#000" stroke="#000">CD45-</text>
<text transform="translate(316.4,101.5) rotate(-90)" font-size="6.8" font-weight="bold" text-anchor="middle" fill="#000" stroke="#000">HMCLs</text>
<text transform="translate(307.7,146.5) rotate(-90)" font-size="6.8" font-weight="bold" text-anchor="middle" fill="#000" stroke="#000">CD45+</text>
<text transform="translate(316.4,146.5) rotate(-90)" font-size="6.8" font-weight="bold" text-anchor="middle" fill="#000" stroke="#000">HMCLs</text>
<text x="347.5" y="189.2" font-size="6.6" text-anchor="middle" fill="#333" stroke="#333">Median</text>
<text x="347.7" y="200.0" font-size="6.6" text-anchor="middle" fill="#333" stroke="#333">Range</text>
<text x="386.15" y="189.2" font-size="6.6" text-anchor="middle" fill="#333" stroke="#333">100%</text>
<text x="386.15" y="200.0" font-size="6.6" text-anchor="middle" fill="#333" stroke="#333">(91-100)</text>
<text x="424.40" y="189.2" font-size="6.6" text-anchor="middle" fill="#333" stroke="#333">0%</text>
<text x="424.40" y="200.0" font-size="6.6" text-anchor="middle" fill="#333" stroke="#333">(0-15)</text>
<text x="462.85" y="189.2" font-size="6.6" text-anchor="middle" fill="#333" stroke="#333">49%</text>
<text x="462.85" y="200.0" font-size="6.6" text-anchor="middle" fill="#333" stroke="#333">(6-99)</text>
<text x="501.20" y="189.2" font-size="6.6" text-anchor="middle" fill="#333" stroke="#333">100%</text>
<text x="501.20" y="200.0" font-size="6.6" text-anchor="middle" fill="#333" stroke="#333">(88-100)</text>
</svg></body></html>
